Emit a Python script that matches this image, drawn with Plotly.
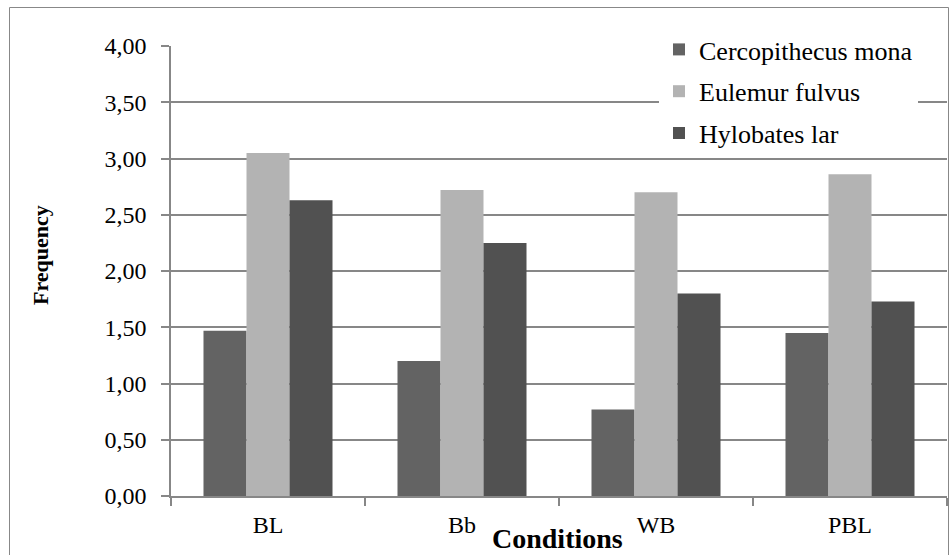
import plotly.graph_objects as go

# Conditions on the x axis
conditions = ["BL", "Bb", "WB", "PBL"]

# Mean frequency per species and condition
cercopithecus_mona = [1.47, 1.20, 0.77, 1.45]
eulemur_fulvus = [3.05, 2.72, 2.70, 2.86]
hylobates_lar = [2.63, 2.25, 1.80, 1.73]

species = ["Cercopithecus mona", "Eulemur fulvus", "Hylobates lar"]
colors = ["#636363", "#b3b3b3", "#515151"]

# y ticks with decimal comma labels
y_tickvals = [0, 0.5, 1, 1.5, 2, 2.5, 3, 3.5, 4]
y_ticktext = ["0,00", "0,50", "1,00", "1,50", "2,00", "2,50", "3,00", "3,50", "4,00"]

FONT = "Liberation Serif"
GRID = "#878787"

W, H = 952, 555
L, R, T, B = 171, 5, 46, 59
plot_w = W - L - R
plot_h = H - T - B


def px_x(p):
    return (p - L) / plot_w


def px_y(p):
    return (H - B - p) / plot_h


fig = go.Figure()
for i, (name, vals, col) in enumerate(zip(species, [cercopithecus_mona, eulemur_fulvus, hylobates_lar], colors)):
    fig.add_trace(go.Bar(
        x=conditions, y=vals, name=name, legendgroup=f"g{i}",
        marker=dict(color=col, line=dict(width=0)),
    ))

fig.update_layout(
    width=W, height=H,
    margin=dict(l=L, r=R, t=T, b=B, autoexpand=False),
    paper_bgcolor="white", plot_bgcolor="white",
    font=dict(family=FONT, size=24, color="black"),
    barmode="group", bargap=0.335, bargroupgap=0,
    showlegend=True,
    legend=dict(
        x=px_x(659), y=px_y(26), xanchor="left", yanchor="top",
        bgcolor="white", borderwidth=0,
        font=dict(family=FONT, size=26, color="black"),
        traceorder="grouped", tracegroupgap=5,
    ),
    xaxis=dict(
        type="category", showgrid=False,
        showline=True, linecolor=GRID, linewidth=1.5,
        ticks="outside", tickson="boundaries", ticklen=8, tickcolor=GRID, tickwidth=1.5,
        tickfont=dict(family=FONT, size=24, color="black"),
        ticklabelstandoff=6,
    ),
    yaxis=dict(
        range=[0, 4], tickvals=y_tickvals, ticktext=y_ticktext,
        showgrid=True, gridcolor=GRID, gridwidth=1.5,
        showline=True, linecolor=GRID, linewidth=1.5,
        ticks="outside", ticklen=8, tickcolor=GRID, tickwidth=1.5,
        tickfont=dict(family=FONT, size=24, color="black"),
        ticklabelstandoff=10, zeroline=False,
    ),
    annotations=[
        dict(text="<b>Frequency</b>", textangle=-90, xref="paper", yref="paper",
             x=px_x(40), y=px_y(255), xanchor="center", yanchor="middle", showarrow=False,
             font=dict(family=FONT, size=22, color="black")),
        dict(text="<b>Conditions</b>", xref="paper", yref="paper",
             x=px_x(557), y=px_y(538), xanchor="center", yanchor="middle", showarrow=False,
             font=dict(family=FONT, size=28, color="black")),
    ],
    shapes=[
        # outer chart frame
        dict(type="rect", xref="paper", yref="paper",
             x0=px_x(9.5), x1=px_x(948.5), y0=px_y(575), y1=px_y(7.5),
             line=dict(color="#888888", width=1), layer="below"),
    ],
)

fig.write_html("out.html")
